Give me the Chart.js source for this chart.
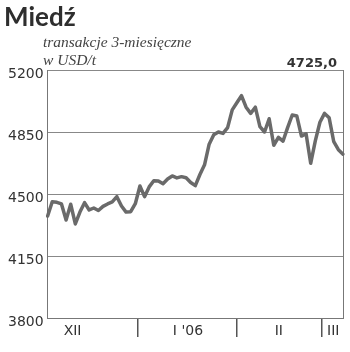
<!DOCTYPE html>
<html>
<head>
<meta charset="utf-8">
<script src="https://cdn.jsdelivr.net/npm/chart.js@4/dist/chart.umd.min.js"></script>
<style>
    html, body { margin: 0; padding: 0; background: #fff; }
    #wrap { position: relative; width: 350px; height: 352px; overflow: hidden; }
    #chart { position: absolute; left: 0; top: 0; }
    .title { position: absolute; left: 4px; top: 0px; font: bold 26px Lato, sans-serif; color: #2e2e2e; }
    .sub { position: absolute; left: 43px; font: italic 15.5px "Liberation Serif", serif; color: #444; }
    .last { position: absolute; right: 13px; top: 55px; font: bold 13px "DejaVu Sans", sans-serif; color: #333; }
</style>
</head>
<body>
<div id="wrap">
    <canvas id="chart" width="350" height="352"></canvas>
    <div class="title">Miedź</div>
    <div class="sub" style="top:33px">transakcje 3-miesięczne</div>
    <div class="sub" style="top:51px">w USD/t</div>
    <div class="last">4725,0</div>
</div>
<script>
    // ceny miedzi, kolejne sesje od poczatku XII do poczatku III
    const prices = [
        4376, 4456, 4453, 4444, 4353, 4442, 4331, 4398, 4451, 4410,
        4421, 4407, 4430, 4444, 4455, 4485, 4432, 4398, 4400, 4445,
        4545, 4485, 4540, 4575, 4573, 4558, 4585, 4602, 4591, 4598,
        4592, 4565, 4547, 4610, 4665, 4781, 4834, 4850, 4842, 4875,
        4975, 5015, 5055, 4990, 4955, 4990, 4880, 4850, 4925, 4775,
        4820, 4798, 4875, 4946, 4940, 4827, 4840, 4673, 4800, 4905,
        4955, 4930, 4795, 4750, 4725,
    ];
    const sessions = prices.map((_, i) => i);

    const monthNames = ["XII", "I '06", "II", "III"];
    const monthCenters = [5.4, 30.4, 50.1, 61.9];
    const monthBreaks = [19.5, 40.9, 59.5];

    const yTicks = [3800, 4150, 4500, 4850, 5200];

    const axisFont = { family: "DejaVu Sans", size: 14 };
    const monthTickValues = [...monthBreaks, ...monthCenters].sort((a, b) => a - b);
    const isBreak = (v) => monthBreaks.some((b) => Math.abs(b - v) < 0.001);

    new Chart(document.getElementById("chart"), {
        type: "line",
        data: {
            labels: sessions,
            datasets: [{
                data: prices,
                borderColor: "#6a6a6a",
                borderWidth: 3.5,
                borderJoinStyle: "round",
                borderCapStyle: "round",
                pointRadius: 0,
                tension: 0,
                xAxisID: "x",
                yAxisID: "y",
            }],
        },
        options: {
            responsive: false,
            animation: false,
            events: [],
            layout: { padding: { top: 70, left: 4, right: 7, bottom: 10 } },
            plugins: { legend: { display: false }, tooltip: { enabled: false } },
            scales: {
                x: { display: false },
                months: {
                    type: "linear",
                    position: "bottom",
                    min: 0,
                    max: prices.length - 1,
                    afterBuildTicks: (axis) => {
                        axis.ticks = monthTickValues.map((v) => ({ value: v }));
                    },
                    afterFit: (axis) => {
                        axis.height = 24;
                    },
                    border: { display: true, color: "#777", width: 1 },
                    grid: {
                        drawOnChartArea: false,
                        drawTicks: true,
                        tickLength: 19,
                        lineWidth: 1.5,
                        color: (ctx) => (ctx.tick && isBreak(ctx.tick.value) ? "#555" : "rgba(0,0,0,0)"),
                    },
                    ticks: {
                        autoSkip: false,
                        maxRotation: 0,
                        padding: -14,
                        color: "#333",
                        font: axisFont,
                        callback: (value) => {
                            const idx = monthCenters.findIndex((c) => Math.abs(c - value) < 0.001);
                            return idx >= 0 ? monthNames[idx] : "";
                        },
                    },
                },
                y: {
                    min: yTicks[0],
                    max: yTicks[yTicks.length - 1],
                    afterBuildTicks: (axis) => {
                        axis.ticks = yTicks.map((v) => ({ value: v }));
                    },
                    border: { display: true, color: "#777", width: 1 },
                    grid: { color: "#888", lineWidth: 1, drawTicks: false },
                    ticks: { padding: 4, labelOffset: 4, color: "#333", font: axisFont, callback: (v) => String(v) },
                },
                y2: {
                    position: "right",
                    min: yTicks[0],
                    max: yTicks[yTicks.length - 1],
                    border: { display: true, color: "#777", width: 1 },
                    grid: { display: false, drawTicks: false },
                    ticks: { display: false },
                },
            },
        },
    });
</script>
</body>
</html>
